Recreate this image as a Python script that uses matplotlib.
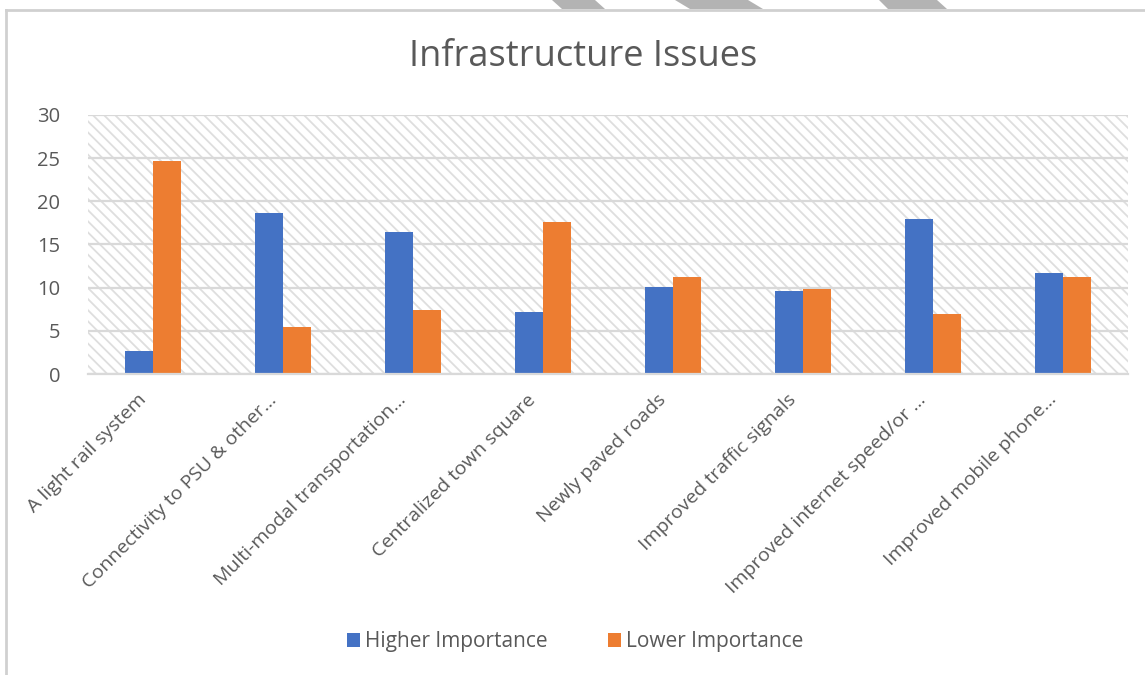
import matplotlib
matplotlib.use("Agg")
import matplotlib.pyplot as plt
from matplotlib.patches import Rectangle, Polygon
from matplotlib.transforms import ScaledTranslation
import numpy as np

categories = [
    "A light rail system",
    "Connectivity to PSU & other\u2026",
    "Multi-modal transportation\u2026",
    "Centralized town square",
    "Newly paved roads",
    "Improved traffic signals",
    "Improved internet speed/or \u2026",
    "Improved mobile phone\u2026",
]
higher_importance = [2.7, 18.7, 16.4, 7.2, 10.1, 9.6, 17.9, 11.7]
lower_importance = [24.7, 5.5, 7.4, 17.6, 11.2, 9.9, 6.9, 11.2]
y_ticks = [0, 5, 10, 15, 20, 25, 30]

BLUE = "#4472C4"
ORANGE = "#ED7D31"
TEXT = "#595959"
GRID = "#d9d9d9"

plt.rcParams["font.family"] = ["Open Sans", "DejaVu Sans"]
plt.rcParams["hatch.linewidth"] = 1.3

W, H = 1145, 675
fig = plt.figure(figsize=(W / 100, H / 100), dpi=100)
fig.patch.set_facecolor("white")

# axes placed in pixel terms
left, right, top, bottom = 88, 1128, 115, 374
ax = fig.add_axes([left / W, 1 - bottom / H, (right - left) / W, (bottom - top) / H])
ax.patch.set_alpha(0)

# patterned plot-area background
bg = Rectangle((0, 0), 1, 1, transform=ax.transAxes, facecolor="white",
               edgecolor="#dedede", hatch="\\\\\\", linewidth=0, zorder=-1)
ax.add_patch(bg)

x = np.arange(len(categories))
bw = 0.215
ax.bar(x - bw / 2, higher_importance, width=bw, color=BLUE, label="Higher Importance", zorder=2)
ax.bar(x + bw / 2, lower_importance, width=bw, color=ORANGE, label="Lower Importance", zorder=2)

ax.set_xlim(-0.5, len(categories) - 0.5)
ax.set_ylim(0, 30)
ax.set_yticks(y_ticks)
ax.set_axisbelow(True)
ax.yaxis.grid(True, color=GRID, linewidth=1.6)
for s in ["top", "right", "left"]:
    ax.spines[s].set_visible(False)
ax.spines["bottom"].set_color(GRID)
ax.spines["bottom"].set_linewidth(1.6)
ax.tick_params(axis="both", length=0, colors=TEXT, labelsize=14.5)
ax.tick_params(axis="y", pad=20)

ax.set_xticks(x)
ax.set_xticklabels(categories, rotation=45, ha="right", va="top",
                   rotation_mode="anchor", fontsize=14, color=TEXT)
ax.tick_params(axis="x", pad=12)
shift = ScaledTranslation(-16 / 100, 0, fig.dpi_scale_trans)
for lbl in ax.get_xticklabels():
    lbl.set_transform(lbl.get_transform() + shift)

fig.text(583 / W, 1 - 57 / H, "Infrastructure Issues", ha="center", va="center",
         fontsize=26, color=TEXT)

leg = fig.legend(loc="center", bbox_to_anchor=(575 / W, 1 - 642 / H), ncol=2,
                 frameon=False, fontsize=15, handlelength=0.62, handleheight=0.62,
                 handletextpad=0.25, columnspacing=2.9, labelcolor=TEXT)

# chart frame edges
fig.add_artist(plt.Line2D([6 / W, 1], [1 - 10 / H, 1 - 10 / H], color="#d0d0d0",
                          linewidth=2, transform=fig.transFigure))
fig.add_artist(plt.Line2D([6 / W, 6 / W], [0, 1 - 10 / H], color="#d0d0d0",
                          linewidth=2, transform=fig.transFigure))

# page decoration marks above the frame
for (tl, tr, bl, br) in [(552, 595, 562, 605), (675, 748, 690, 763), (879, 937, 888, 947)]:
    poly = Polygon([(tl / W, 1), (tr / W, 1), (br / W, 1 - 9 / H), (bl / W, 1 - 9 / H)],
                   closed=True, transform=fig.transFigure, facecolor="#b3b3b3",
                   edgecolor="none")
    fig.add_artist(poly)

fig.savefig("out.png", dpi=100)
